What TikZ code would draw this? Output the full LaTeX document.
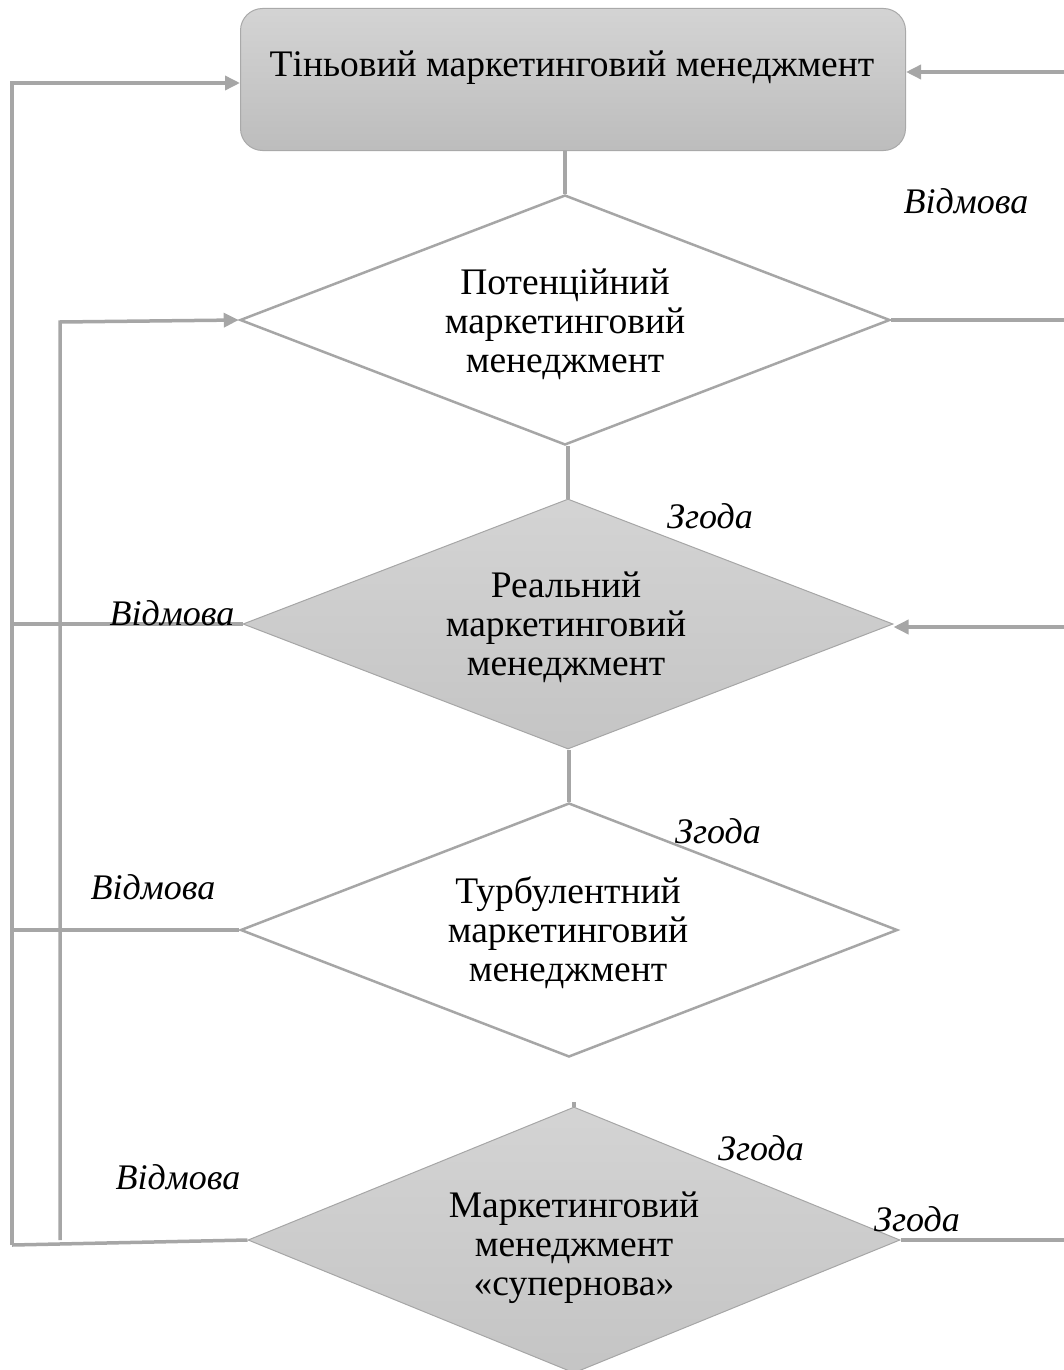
\documentclass[tikz,border=0pt]{standalone}
\usepackage{fontspec}
\setmainfont{Liberation Serif}
\usetikzlibrary{shapes.geometric,arrows.meta}
\definecolor{linegray}{HTML}{A6A6A6}
\definecolor{edgegray}{HTML}{A9A9A9}
\tikzset{
  flow/.style={draw=linegray,line width=3.5pt},
  arr/.style={flow,-{Triangle[length=15pt,width=14pt]}},
  mainbox/.style={draw=edgegray,line width=1pt,rounded corners=22pt,
    top color=black!17,bottom color=black!26,minimum width=665pt,minimum height=142pt,anchor=north west},
  stage/.style={diamond,draw=linegray,line width=2.5pt,fill=white,inner sep=0pt,
    minimum width=650pt,minimum height=250pt},
  stagedark/.style={stage,line width=1pt,top color=black!17,bottom color=black!23},
  ttl/.style={font=\fontsize{37.5}{39}\selectfont,align=center},
  lbl/.style={font=\fontsize{36}{40}\selectfont\itshape}
}
\begin{document}
\begin{tikzpicture}[x=1pt,y=-1pt]
\useasboundingbox (0,0) rectangle (1064,1370);
% main block
\node[mainbox] (box) at (240,8) {};
\node[ttl] (boxtxt) at (572,68) {Тіньовий маркетинговий менеджмент};
% decision stages
\node[stage] (d1) at (565,320) {};
\node[ttl] (t1) at (565,324) {Потенційний\\маркетинговий\\менеджмент};
\node[stagedark] (d2) at (568,624) {};
\node[ttl] (t2) at (566,627) {Реальний\\маркетинговий\\менеджмент};
\node[stage,minimum width=657pt,minimum height=254pt] (d3) at (569,930) {};
\node[ttl] (t3) at (568,933) {Турбулентний\\маркетинговий\\менеджмент};
\node[stagedark,minimum width=652pt,minimum height=266pt] (d4) at (574,1240) {};
\node[ttl] (t4) at (574,1248) {Маркетинговий\\менеджмент\\«супернова»};
% vertical links
\draw[flow] (d1.north) -- (d1.north |- box.south);
\draw[flow] (d2.north) -- (d2.north |- d1.south);
\draw[flow] (d3.north) -- (d3.north |- d2.south);
\draw[flow] (d4.north) -- ++(0,-5);
% right side
\coordinate (r0) at (1064,72);
\coordinate (r1) at (1064,320);
\coordinate (r2) at (1064,627);
\coordinate (r4) at (1064,1240);
\draw[arr] (r0) -- (r0 -| box.east);
\draw[flow] (d1.east) -- (r1);
\draw[arr] (r2) -- (r2 -| d2.east);
\draw[flow] (d4.east) -- (r4);
% left side
\coordinate (a0) at (12,1245);
\coordinate (a1) at (12,83);
\coordinate (b0) at (60,1240);
\coordinate (b1) at (60,322);
\draw[arr] (a0) -- (a1) -- (a1 -| box.west);
\draw[arr] (b0) -- (b1) -- (d1.west);
\draw[flow] (d2.west) -- (d2.west -| a0);
\draw[flow] (d3.west) -- (d3.west -| a0);
\draw[flow] (d4.west) -- (a0);
% labels
\node[lbl] (n1) at (966,201) {Відмова};
\node[lbl] (n2) at (710,516) {Згода};
\node[lbl] (n3) at (172,613) {Відмова};
\node[lbl] (n4) at (718,831) {Згода};
\node[lbl] (n5) at (153,887) {Відмова};
\node[lbl] (n6) at (761,1148) {Згода};
\node[lbl] (n7) at (178,1177) {Відмова};
\node[lbl] (n8) at (917,1219) {Згода};
\end{tikzpicture}
\end{document}
